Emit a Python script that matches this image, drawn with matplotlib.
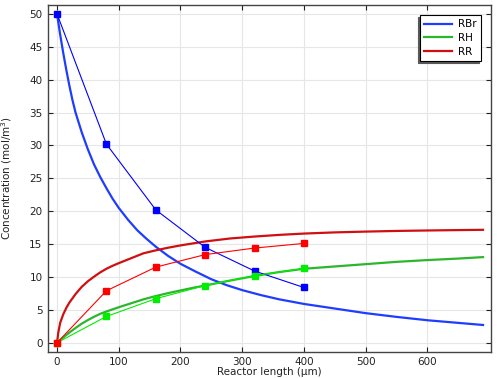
import matplotlib
matplotlib.use("Agg")
import matplotlib.pyplot as plt

# Simulation curves
rbr_x = [0, 5, 10, 15, 20, 25, 30, 40, 50, 60, 70, 80, 90, 100, 115, 130, 145, 160, 180,
         200, 225, 250, 275, 300, 330, 360, 400, 450, 500, 550, 600, 650, 690]
rbr_y = [50, 46.9, 44.1, 41.5, 39.1, 36.9, 35.0, 32.0, 29.4, 27.1, 25.2, 23.5, 21.9, 20.5,
         18.7, 17.1, 15.8, 14.6, 13.2, 12.0, 10.8, 9.65, 8.75, 8.0, 7.25, 6.6, 5.9, 5.2, 4.5,
         3.93, 3.42, 3.02, 2.7]

rh_x = [0, 10, 20, 30, 40, 50, 60, 70, 80, 100, 120, 140, 160, 180, 200, 220, 240, 280,
        320, 360, 400, 450, 500, 550, 600, 650, 690]
rh_y = [0, 0.8, 1.55, 2.25, 2.9, 3.45, 3.95, 4.4, 4.75, 5.4, 6.0, 6.6, 7.1, 7.55, 7.95,
        8.35, 8.7, 9.45, 10.15, 10.75, 11.25, 11.6, 11.95, 12.3, 12.57, 12.8, 13.02]

rr_x = [0, 2, 5, 10, 15, 20, 30, 40, 50, 60, 70, 80, 90, 100, 120, 140, 160, 180, 200,
        240, 280, 320, 360, 400, 450, 500, 550, 600, 650, 690]
rr_y = [0, 1.5, 3.0, 4.3, 5.3, 6.1, 7.4, 8.5, 9.35, 10.05, 10.7, 11.25, 11.7, 12.1, 12.85,
        13.6, 14.05, 14.45, 14.8, 15.4, 15.85, 16.15, 16.4, 16.6, 16.78, 16.9, 17.0, 17.07,
        17.13, 17.17]

# Experimental points
exp_x = [0, 80, 160, 240, 320, 400]
exp_rbr = [50, 30.2, 20.2, 14.5, 10.9, 8.4]
exp_rh = [0, 4.0, 6.7, 8.7, 10.2, 11.3]
exp_rr = [0, 7.9, 11.5, 13.4, 14.4, 15.1]

labels = ["RBr", "RH", "RR"]

fig = plt.figure(figsize=(4.97, 3.78), dpi=100)
ax = fig.add_axes([0.0966, 0.0696, 0.8914, 0.918])

c_blue, c_green, c_red = "#1f3dff", "#2db52d", "#d01010"

l1, = ax.plot(rbr_x, rbr_y, color=c_blue, lw=1.6, label=labels[0], zorder=3)
l2, = ax.plot(rh_x, rh_y, color=c_green, lw=1.6, label=labels[1], zorder=3)
l3, = ax.plot(rr_x, rr_y, color=c_red, lw=1.6, label=labels[2], zorder=3)

ax.plot(exp_x, exp_rbr, color="#0000ff", lw=0.8, marker="s", ms=3.8, zorder=4)
ax.plot(exp_x, exp_rh, color="#00ee00", lw=0.8, marker="s", ms=3.8, zorder=4)
ax.plot(exp_x, exp_rr, color="#ff0000", lw=0.8, marker="s", ms=3.8, zorder=4)

ax.set_xlim(-14.6, 703)
ax.set_ylim(-1.36, 51.4)
ax.set_xticks(range(0, 700, 100))
ax.set_yticks(range(0, 55, 5))
ax.grid(True, color="#e6e6e6", lw=0.8)
ax.set_axisbelow(True)
ax.tick_params(direction="in", top=True, right=True, length=3.5, width=0.8,
               labelsize=7.5, colors="#222222", pad=4)
for s in ax.spines.values():
    s.set_color("#444444")
    s.set_linewidth(1.0)

ax.set_xlabel("Reactor length (µm)", fontsize=7.5, labelpad=0, color="#222222")
ax.set_ylabel("Concentration (mol/m$^3$)", fontsize=7.5, labelpad=11, color="#222222")

leg = ax.legend(handles=[l1, l2, l3], loc="upper right", fontsize=7.5,
                frameon=True, fancybox=False, edgecolor="black", framealpha=1,
                borderaxespad=1.0, handlelength=2.6, handletextpad=0.6,
                labelspacing=0.35, borderpad=0.4,
                shadow={"ox": -1.5, "oy": -1.5, "color": "0.35", "alpha": 1})
leg.get_frame().set_linewidth(0.8)

fig.savefig("out.png", dpi=100)
